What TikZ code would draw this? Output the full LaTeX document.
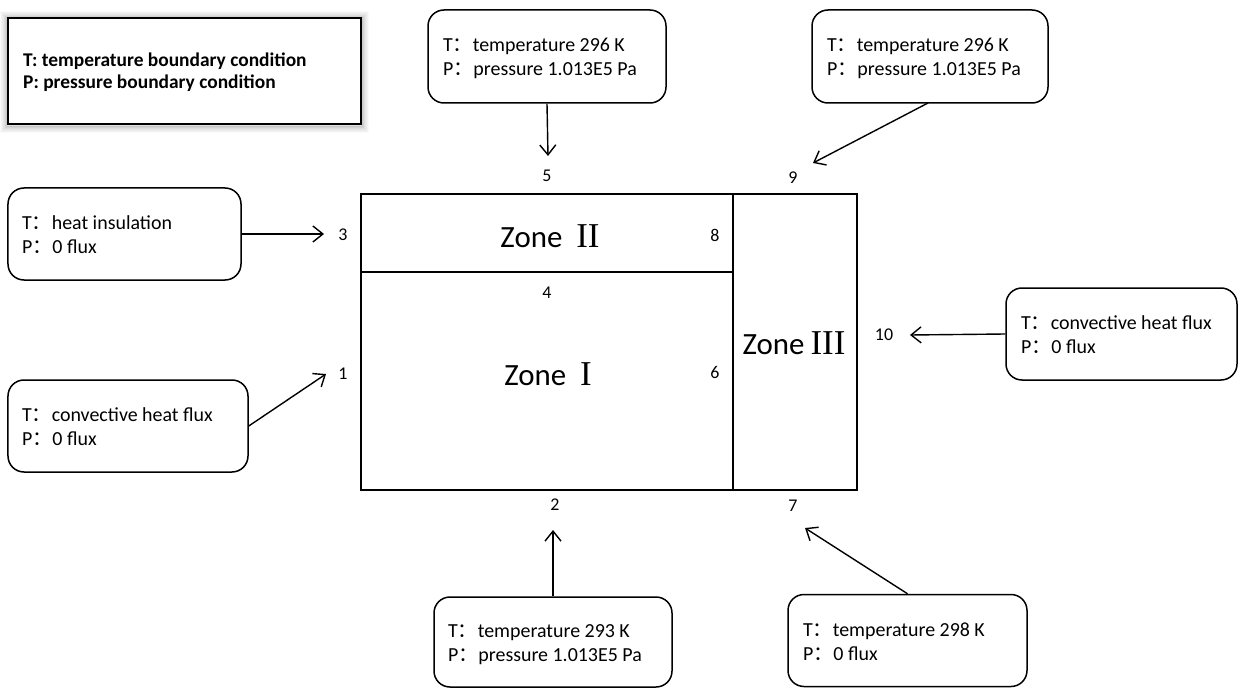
\documentclass[tikz,border=0pt]{standalone}
\usepackage{fontspec}
\setmainfont{Carlito}
\newfontfamily\cjk{Noto Sans CJK SC}
\newfontfamily\romfont{Liberation Serif}
\usetikzlibrary{arrows.meta}
\newcommand\fwc{{\cjk ：}}
\tikzset{
  cbox/.style={draw, line width=1.5bp, rounded corners=16bp, inner sep=0pt},
  btext/.style={anchor=west, align=left, inner sep=0pt, font=\fontsize{20}{24}\selectfont},
  num/.style={inner sep=0pt, font=\fontsize{18}{18}\selectfont},
  zone/.style={inner sep=0pt, font=\fontsize{31}{31}\selectfont},
  rom/.style={font=\fontsize{35}{35}\romfont},
  arr/.style={line width=1.4bp, -{Straight Barb[length=10bp,width=16bp,line width=1.4bp]}},
  wall/.style={line width=1.6bp}
}
\begin{document}
\begin{tikzpicture}[x=1bp,y=-1bp]
\useasboundingbox (0,0) rectangle (1239,688);
% legend glow
\foreach \i/\o in {1/0.12,2/0.10,3/0.08,4/0.06,5/0.045,6/0.03,7/0.02}
  \draw[black, opacity=\o, line width=1.5bp] (8-\i,18-\i+1) rectangle (361+\i,124+\i+1);
\node[draw, line width=1.6bp, minimum width=353bp, minimum height=106bp, inner sep=0pt] (leg) at (184.5,71) {};
\node[anchor=west, align=left, inner sep=0pt, font=\fontsize{19.5}{22}\bfseries\selectfont] (legt) at (23,72.5)
  {T: temperature boundary condition\\P: pressure boundary condition};

% zones
\draw[wall] (361,194) rectangle (857,490);
\draw[wall] (733,194) -- (733,490);
\draw[wall] (361,272) -- (733,272);
\node[zone] (z2) at (550,236) {Zone\hspace{0.45em}{\fontsize{35}{35}\romfont II}};
\node[zone] (z1) at (548,374) {Zone\hspace{0.45em}{\fontsize{35}{35}\romfont I}};
\node[zone] (z3) at (794,343) {Zone\hspace{0.2em}{\fontsize{35}{35}\romfont III}};

% numbers
\node[num] (n1) at (343,374) {1};
\node[num] (n2) at (555,505) {2};
\node[num] (n3) at (343,235) {3};
\node[num] (n4) at (547,293) {4};
\node[num] (n5) at (547,176) {5};
\node[num] (n6) at (715,373) {6};
\node[num] (n7) at (793,506) {7};
\node[num] (n8) at (715,235) {8};
\node[num] (n9) at (793,178) {9};
\node[num] (n10) at (884,335) {10};

% boxes
\node[cbox, minimum width=238bp, minimum height=93bp] (t1) at (547,56.5) {};
\node[btext] (t1t) at (443,58) {T\fwc temperature 296 K\\P\fwc pressure 1.013E5 Pa};
\node[cbox, minimum width=236bp, minimum height=93bp] (t2) at (930,56.5) {};
\node[btext] (t2t) at (827,58.5) {T\fwc temperature 296 K\\P\fwc pressure 1.013E5 Pa};
\node[cbox, minimum width=233bp, minimum height=92bp] (l1) at (124.5,234) {};
\node[btext] (l1t) at (22,235) {T\fwc heat insulation\\P\fwc 0 flux};
\node[cbox, minimum width=240bp, minimum height=92bp] (l2) at (128,426) {};
\node[btext] (l2t) at (22,426.5) {T\fwc convective heat flux\\P\fwc 0 flux};
\node[cbox, minimum width=231bp, minimum height=92bp] (r1) at (1121.5,334) {};
\node[btext] (r1t) at (1021,335) {T\fwc convective heat flux\\P\fwc 0 flux};
\node[cbox, minimum width=238bp, minimum height=90bp] (b1) at (553,642) {};
\node[btext] (b1t) at (448,645) {T\fwc temperature 293 K\\P\fwc pressure 1.013E5 Pa};
\node[cbox, minimum width=239bp, minimum height=92bp] (b2) at (907.5,640.5) {};
\node[btext] (b2t) at (803,642) {T\fwc temperature 298 K\\P\fwc 0 flux};

% arrow tips
\coordinate (e5) at (548,156);
\coordinate (e9) at (813,163);
\coordinate (e3) at (324,234);
\coordinate (e1) at (326,374);
\coordinate (e10) at (910,335);
\coordinate (e2) at (553,530);
\coordinate (e7) at (805,528);

\draw[arr] (t1.south) -- (e5);
\draw[arr] (928,103) -- (e9);
\draw[arr] (l1.east) -- (e3);
\draw[arr] (l2.east) -- (e1);
\draw[arr] (r1.west) -- (e10);
\draw[arr] (b1.north) -- (e2);
\draw[arr] (b2.north) -- (e7);
\end{tikzpicture}
\end{document}
